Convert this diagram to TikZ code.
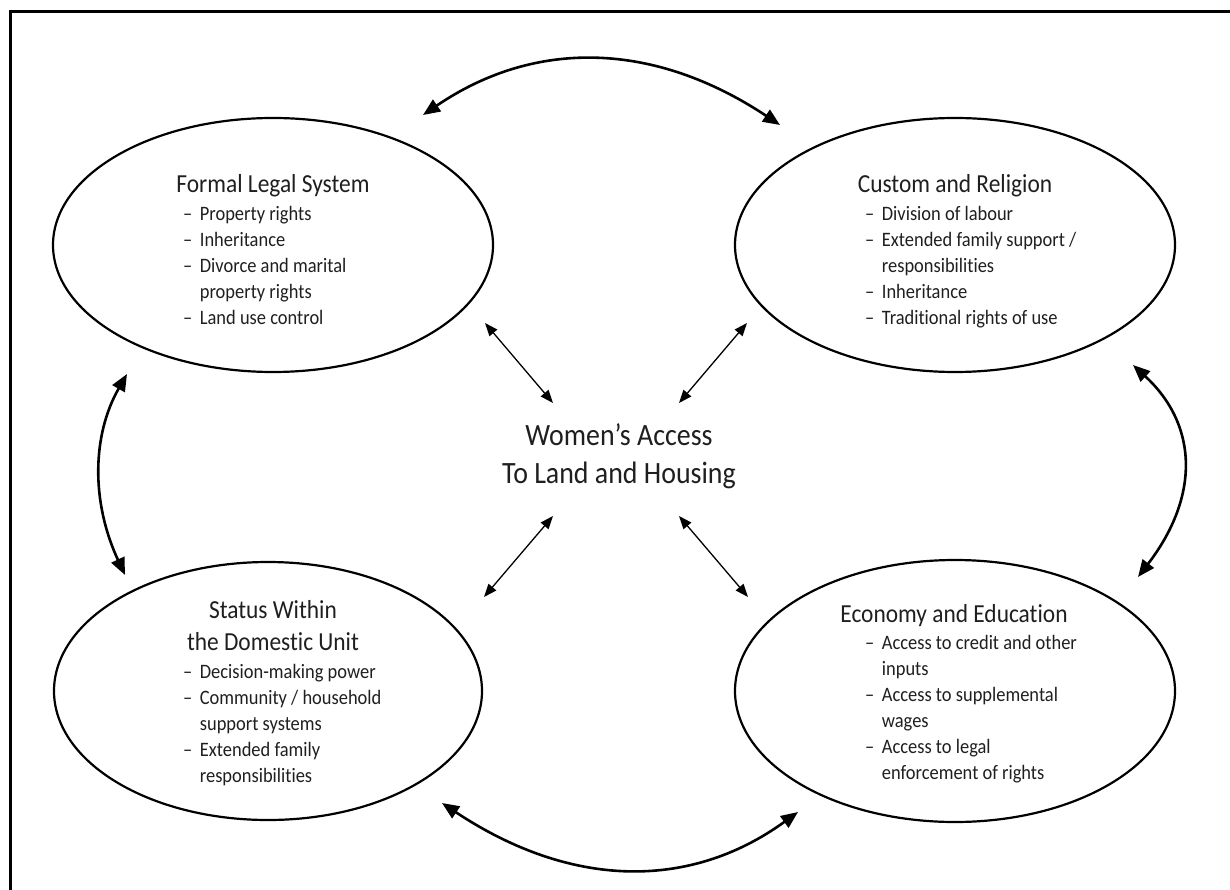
\documentclass[tikz,border=0pt]{standalone}
\usepackage{fontspec}
\setmainfont{Carlito}[FakeStretch=0.9, Ligatures={NoCommon}]
\usetikzlibrary{shapes.geometric,arrows.meta}
\newcommand{\itemlist}[1]{\begin{tabular}[t]{@{}l@{\hspace{7.5pt}}l@{}}#1\end{tabular}}
\newcommand{\titletext}[1]{\begin{tabular}[t]{@{}c@{}}#1\end{tabular}}
\begin{document}
\begin{tikzpicture}[x=1pt,y=-1pt,
  oval/.style={ellipse, draw, line width=2.2pt, inner sep=0pt},
  thinarrow/.style={line width=1.3pt, {Triangle[length=13pt,width=10pt]}-{Triangle[length=13pt,width=10pt]}},
  thickarrow/.style={line width=2.6pt, {Triangle[length=17pt,width=14pt]}-{Triangle[length=17pt,width=14pt]}},
  title/.style={anchor=base, inner sep=0pt, text=black!88, font=\fontsize{26}{32}\selectfont},
  list/.style={anchor=base west, inner sep=0pt, text=black!88, font=\fontsize{20.5}{26}\selectfont},
  hub/.style={anchor=base, inner sep=0pt, text=black!88, font=\fontsize{31}{38}\selectfont}]
\useasboundingbox (0,0) rectangle (1230,890);
% frame
\draw[line width=3pt] (10.5,890) -- (10.5,11.3) -- (1230,11.3);
% ellipses
\node[oval, minimum width=440pt, minimum height=254pt] (fls) at (273,245) {};
\node[oval, minimum width=440pt, minimum height=254pt] (cr) at (955,245) {};
\node[oval, minimum width=428pt, minimum height=258pt] (sdu) at (268,691) {};
\node[oval, minimum width=440pt, minimum height=262pt] (ee) at (955,691) {};
% texts
\node[title] (flsT) at (273,193) {\titletext{Formal Legal System}};
\node[list] (flsL) at (183,221) {\itemlist{– & Property rights\\ – & Inheritance\\ – & Divorce and marital\\ & property rights\\ – & Land use control}};
\node[title] (crT) at (955,193) {\titletext{Custom and Religion}};
\node[list] (crL) at (865,221) {\itemlist{– & Division of labour\\ – & Extended family support /\\ & responsibilities\\ – & Inheritance\\ – & Traditional rights of use}};
\node[title] (sduT) at (273,618) {\titletext{Status Within\\ the Domestic Unit}};
\node[list] (sduL) at (183,678) {\itemlist{– & Decision-making power\\ – & Community / household\\ & support systems\\ – & Extended family\\ & responsibilities}};
\node[title] (eeT) at (954,622) {\titletext{Economy and Education}};
\node[list] (eeL) at (865,649) {\itemlist{– & Access to credit and other\\ & inputs\\ – & Access to supplemental\\ & wages\\ – & Access to legal\\ & enforcement of rights}};
\node[hub] (hub) at (619,445) {\titletext{Women’s Access\\ To Land and Housing}};
% arrow end points
\coordinate (a1) at (485,323); \coordinate (b1) at (553,403);
\coordinate (a2) at (747,323); \coordinate (b2) at (679,403);
\coordinate (a3) at (484,597); \coordinate (b3) at (553,516);
\coordinate (a4) at (748,597); \coordinate (b4) at (679,516);
\coordinate (t1) at (423,115); \coordinate (t2) at (780,125);
\coordinate (d1) at (442,803); \coordinate (d2) at (798,812);
\coordinate (l1) at (127,374); \coordinate (l2) at (125,575);
\coordinate (r1) at (1133,365); \coordinate (r2) at (1138,577);
% thin arrows
\draw[thinarrow] (a1) -- (b1);
\draw[thinarrow] (a2) -- (b2);
\draw[thinarrow] (a3) -- (b3);
\draw[thinarrow] (a4) -- (b4);
% thick curved arrows
\draw[thickarrow] (t1) .. controls (536,38) and (655,42) .. (t2);
\draw[thickarrow] (d1) .. controls (570,888) and (689,891) .. (d2);
\draw[thickarrow] (l1) .. controls (92,435) and (91,502) .. (l2);
\draw[thickarrow] (r1) .. controls (1198,425) and (1200,496) .. (r2);
\end{tikzpicture}
\end{document}
